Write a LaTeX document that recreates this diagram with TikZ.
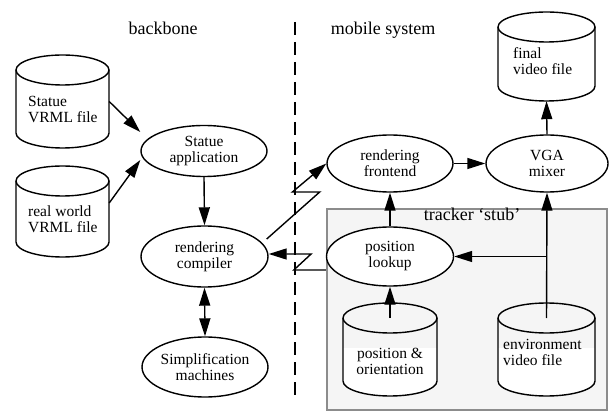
\documentclass[tikz,border=0pt]{standalone}
\usepackage{fontspec}
\setmainfont{Liberation Serif}
\usetikzlibrary{arrows.meta,shapes.geometric,calc}
\newcommand\mynfont{\fontsize{15.5}{16}\selectfont}
\newcommand\myhfont{\fontsize{18}{20}\selectfont}
\newcommand\mycyl[6]{%
  \begin{scope}
    \clip (#2-#3-2, #6) rectangle (#2+#3+2, #5-2);
    \fill[white] (#2-#3, #4-15) -- (#2-#3, #5+15) arc[start angle=180,end angle=360,x radius=#3,y radius=15] -- (#2+#3, #4-15) arc[start angle=0,end angle=180,x radius=#3,y radius=15] -- cycle;
  \end{scope}
  \draw[cylline] (#2-#3, #4-15) -- (#2-#3, #5+15) arc[start angle=180,end angle=360,x radius=#3,y radius=15] -- (#2+#3, #4-15);
  \draw[cylline] (#2, #4-15) ellipse[x radius=#3, y radius=15];
  \node[inner sep=0pt, minimum width=2*#3, minimum height=#4-#5] (#1) at (#2, #4/2+#5/2) {};
  \coordinate (#1-top) at (#2, #4-15);
}
\begin{document}
\begin{tikzpicture}[x=1pt,y=1pt,
  ell/.style={ellipse, draw, line width=1.4pt, fill=white, inner sep=0pt, align=center, font=\mynfont},
  cylline/.style={line width=1.4pt},
  ctext/.style={inner sep=0pt, font=\mynfont},
  head/.style={inner sep=0pt, font=\myhfont, anchor=base},
  arr/.style={line width=1.4pt, -{Triangle[length=18pt,width=11pt]}},
  darr/.style={line width=1.4pt, {Triangle[length=18pt,width=11pt]}-{Triangle[length=18pt,width=11pt]}},
  divider/.style={line width=1.3pt, dash pattern=on 13pt off 7pt},
  trackbox/.style={fill=black!4, draw=black!45, line width=1.1pt}]
\useasboundingbox (0,0) rectangle (609,412);

% titles and divider
\node[head] (tback) at (163,377) {backbone};
\node[head] (tmob) at (383,377) {mobile system};
\draw[divider] (295,390) -- (295,17);

% tracker stub box
\draw[trackbox] (327,203) rectangle (607,2);
\node[head] (tstub) at (472,191) {tracker ‘stub’};

% cylinders
\mycyl{svrml}{62.5}{46.5}{357}{264}{359}
\node[ctext, anchor=west, align=left] (svrml-t) at (28,303) {Statue\\VRML file};
\mycyl{rwvrml}{62.5}{46.5}{246}{155}{248}
\node[ctext, anchor=west, align=left] (rwvrml-t) at (28,193) {real world\\VRML file};
\mycyl{fvf}{546.5}{48.5}{400}{311}{402}
\node[ctext, anchor=west, align=left] (fvf-t) at (513,351) {final\\video file};
\mycyl{posor}{390}{47}{109}{16}{64}
\node[ctext, align=center] (posor-t) at (390,51) {position \&\\orientation};
\mycyl{envvid}{546.5}{48.5}{109}{16}{64}
\node[ctext, anchor=west, align=left] (envvid-t) at (503,60) {environment\\video file};

% ellipses
\node[ell, minimum width=126pt, minimum height=51pt] (sapp) at (204,261) {Statue\\application};
\node[ell, minimum width=127pt, minimum height=61pt] (rcomp) at (204.5,155.5) {rendering\\compiler};
\node[ell, minimum width=126pt, minimum height=60pt] (simp) at (205,45) {Simplification\\machines};
\node[ell, minimum width=126pt, minimum height=57pt] (rfront) at (390,248.5) {rendering\\frontend};
\node[ell, minimum width=122pt, minimum height=57pt] (vga) at (547,248.5) {VGA\\mixer};
\node[ell, minimum width=127pt, minimum height=59pt] (plookup) at (390,155.5) {position\\lookup};

% connectors
\draw[arr] (svrml.east) -- ([yshift=19pt]sapp.west);
\draw[arr] ([yshift=8.5pt]rwvrml.east) -- ([yshift=-9pt]sapp.west);
\draw[arr] (sapp.south) -- (rcomp.north);
\draw[darr] (rcomp.south) -- (simp.north);
\draw[arr] ([shift={(-2pt,17.5pt)}]rcomp.east) -- ++(53,47) -- ++(-27.3,0) -- (rfront.west);
\draw[arr] ([yshift=-13.5pt]plookup.west) -- ++(-32,0) -- ++(17.3,16) -- ([yshift=2.5pt]rcomp.east);
\draw[arr] (posor-top) -- (plookup.south);
\draw[arr] (plookup.north) -- (rfront.south);
\draw[arr] (rfront.east) -- (vga.west);
\draw[arr] (vga.north) -- (fvf.south);
\draw[arr] (envvid-top) -- (vga.south);
\coordinate (br) at (envvid-top |- plookup.east);
\draw[arr] (br) -- (plookup.east);
\end{tikzpicture}
\end{document}
